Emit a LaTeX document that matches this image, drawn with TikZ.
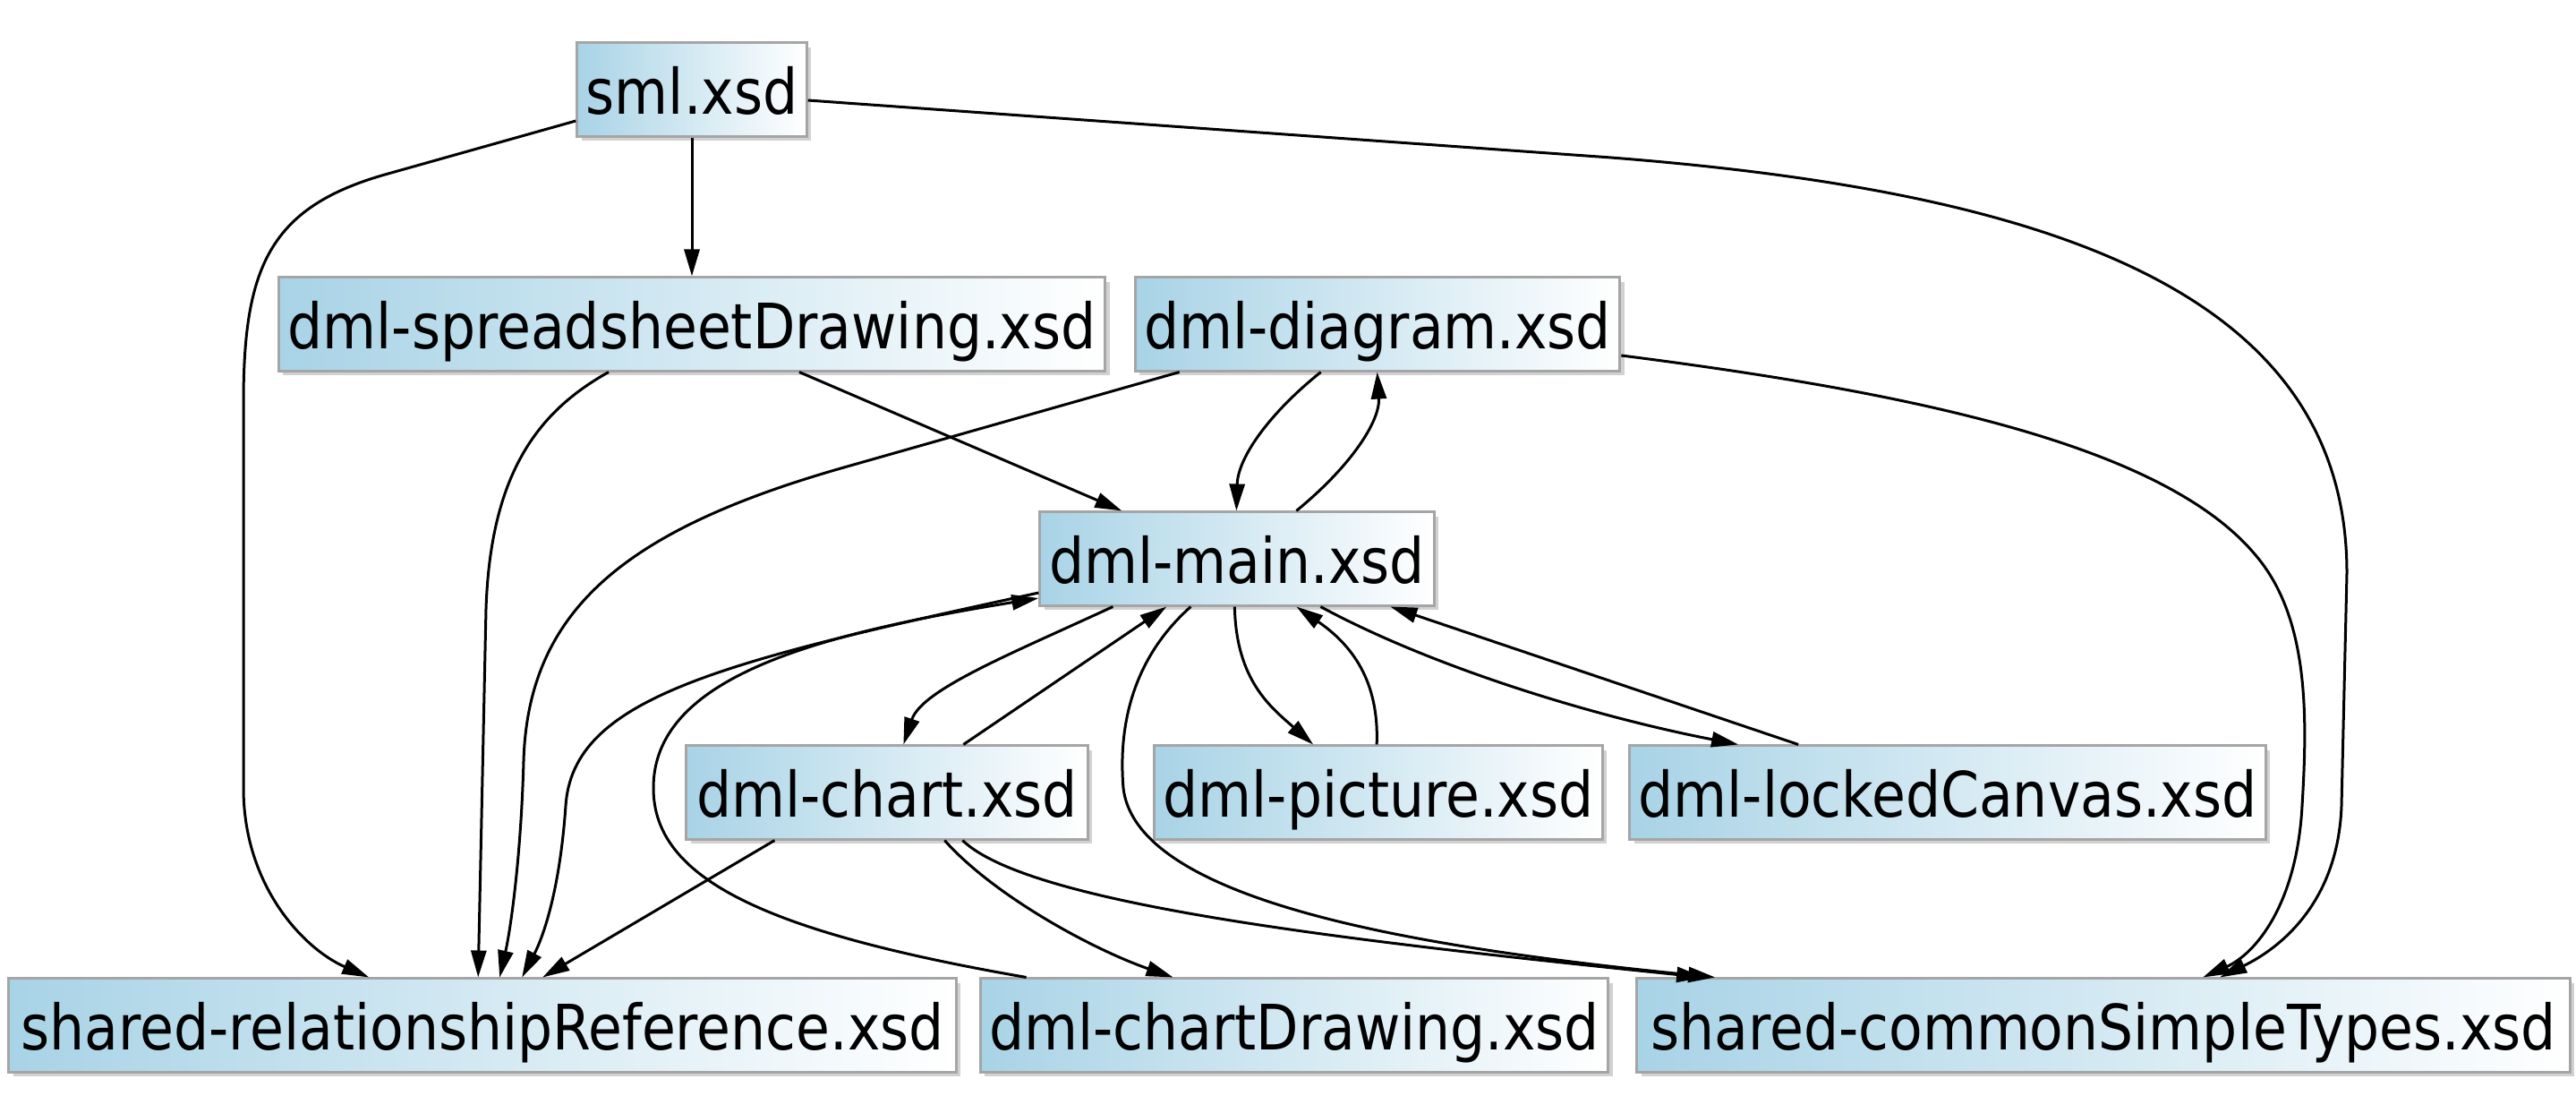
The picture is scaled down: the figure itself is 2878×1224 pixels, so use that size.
\documentclass[tikz,border=0pt]{standalone}
\usepackage{fontspec}
\setmainfont{DejaVu Sans}[FakeStretch=0.88]
\usepackage{tikz}
\usetikzlibrary{arrows.meta}
\usetikzlibrary{calc}
\usetikzlibrary{shadows}
\definecolor{xsdblue}{RGB}{168,211,230}
\definecolor{xsdgray}{RGB}{165,165,165}
\tikzstyle{xsdnode}=[draw=xsdgray,line width=0.03cm,left color=xsdblue,right color=white,rectangle,inner xsep=0.1cm,minimum height=1.04cm,text height=0.55cm,text depth=0cm,drop shadow={shadow xshift=0.05cm,shadow yshift=-0.05cm,fill=black!18,opacity=1},font=\fontsize{19.9pt}{24pt}\selectfont]
\tikzstyle{dep}=[-{Triangle[length=0.30cm,width=0.17cm]},line width=0.03cm]

\begin{document}
\begin{tikzpicture}[x=0.01cm,y=-0.01cm]
\useasboundingbox (0,0) rectangle (2878,1224);
% schema files
\node [xsdnode,minimum width=2.51cm] (sml) at (773,100) {sml.xsd};
\node [xsdnode,minimum width=9.23cm] (sd) at (773,362) {dml-spreadsheetDrawing.xsd};
\node [xsdnode,minimum width=5.38cm] (diag) at (1539,362) {dml-diagram.xsd};
\node [xsdnode,minimum width=4.40cm] (main) at (1382,624) {dml-main.xsd};
\node [xsdnode,minimum width=4.48cm] (chart) at (991,885) {dml-chart.xsd};
\node [xsdnode,minimum width=4.97cm] (pic) at (1540,885) {dml-picture.xsd};
\node [xsdnode,minimum width=7.03cm] (locked) at (2176,885) {dml-lockedCanvas.xsd};
\node [xsdnode,minimum width=10.58cm] (rel) at (539,1145) {shared-relationshipReference.xsd};
\node [xsdnode,minimum width=7.00cm] (cd) at (1446,1145) {dml-chartDrawing.xsd};
\node [xsdnode,minimum width=10.42cm] (cst) at (2350,1145) {shared-commonSimpleTypes.xsd};

% imports
\draw [dep] (sml) -- (sd);
\draw [dep] ($(sml.west)+(0,35)$) -- (430,195) .. controls (300,232) and (272,300) .. (272,450) -- (272,880) .. controls (272,990) and (340,1060) .. ($(rel.north west)+(404,0)$);
\draw [dep] ($(sml.east)+(0,12)$) -- (1800,176) .. controls (2300,215) and (2622,330) .. (2622,640) -- (2616,900) .. controls (2612,1010) and (2545,1060) .. ($(cst.north west)+(653,0)$);
\draw [dep] ($(diag.east)+(0,35)$) .. controls (2150,440) and (2420,500) .. (2520,620) .. controls (2580,690) and (2578,800) .. (2572,900) .. controls (2566,1010) and (2520,1065) .. ($(cst.north west)+(634,0)$);
\draw [dep] ($(sd.south)+(120,0)$) -- ($(main.north west)+(93,0)$);
\draw [dep] ($(sd.south)+(-93,0)$) .. controls (600,460) and (548,530) .. (543,680) -- ($(rel.north west)+(526,0)$);
\draw [dep] ($(diag.south west)+(51,0)$) -- (950,520) .. controls (700,590) and (590,680) .. (585,850) .. controls (582,960) and (570,1040) .. ($(rel.north west)+(550,0)$);
\draw [dep] ($(diag.south west)+(209,0)$) .. controls (1420,460) and (1383,510) .. ($(main.north west)+(221,0)$);
\draw [dep] ($(main.north west)+(288,0)$) .. controls (1510,520) and (1542,470) .. ($(diag.south west)+(272,0)$);
\draw [dep] ($(main.west)+(0,38)$) .. controls (800,740) and (640,780) .. (632,900) .. controls (625,1000) and (605,1050) .. ($(rel.north west)+(575,0)$);
\draw [dep] ($(cd.north west)+(53,0)$) .. controls (850,1040) and (730,980) .. (730,880) .. controls (730,760) and (900,710) .. ($(main.west)+(0,44)$);
\draw [dep] ($(main.south west)+(83,0)$) .. controls (1130,730) and (1030,770) .. ($(chart.north west)+(244,0)$);
\draw [dep] ($(chart.north west)+(311,0)$) -- ($(main.south west)+(143,0)$);
\draw [dep] ($(main.south west)+(219,0)$) .. controls (1381,760) and (1420,790) .. ($(pic.north west)+(179,0)$);
\draw [dep] ($(pic.north west)+(250,0)$) .. controls (1541,760) and (1510,720) .. ($(main.south west)+(288,0)$);
\draw [dep] ($(main.south west)+(315,0)$) .. controls (1600,745) and (1780,800) .. ($(locked.north west)+(123,0)$);
\draw [dep] ($(locked.north west)+(190,0)$) -- ($(main.south west)+(393,0)$);
\draw [dep] ($(main.south west)+(170,0)$) .. controls (1260,740) and (1250,820) .. (1255,880) .. controls (1270,1010) and (1600,1060) .. ($(cst.north west)+(89,0)$);
\draw [dep] ($(chart.south west)+(100,0)$) -- ($(rel.north west)+(598,0)$);
\draw [dep] ($(chart.south west)+(290,0)$) .. controls (1110,1000) and (1220,1060) .. ($(cd.north west)+(217,0)$);
\draw [dep] ($(chart.south west)+(310,0)$) .. controls (1150,1010) and (1500,1050) .. ($(cst.north west)+(76,0)$);
\end{tikzpicture}
\end{document}
